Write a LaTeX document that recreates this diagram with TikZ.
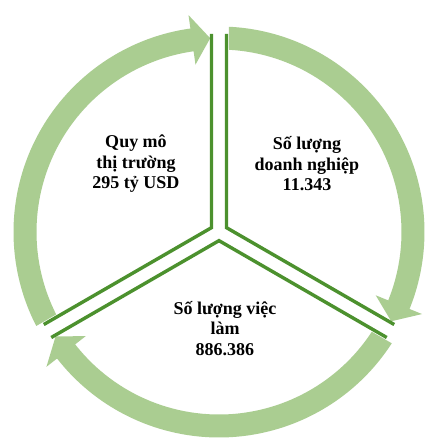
\documentclass[tikz,border=0pt]{standalone}
\usepackage{fontspec}
\setmainfont{Liberation Serif}
\usetikzlibrary{calc}
\definecolor{ringgreen}{RGB}{170,205,145}
\definecolor{linegreen}{RGB}{76,145,46}
\begin{document}
\begin{tikzpicture}[x=1pt,y=1pt,
  ringarrow/.style={fill=ringgreen, draw=none},
  divider/.style={draw=linegreen, line width=3.4pt, line join=miter},
  txt/.style={font=\bfseries\fontsize{18}{20.5}\selectfont, align=center, anchor=base, inner sep=0pt}]
\fill[white] (-219,-207) rectangle (209,232);
\useasboundingbox (-219,-207) rectangle (209,232);
\def\Ri{182.5}\def\Ro{205.5}\def\Rm{194}\def\Wi{169}\def\Wo{219}
\foreach \ds/\de in {210/90, 90/-30, -30/-150} {
  \pgfmathsetmacro\angSo{\ds - asin(10/\Ro)}
  \pgfmathsetmacro\angSi{\ds - asin(10/\Ri)}
  \pgfmathsetmacro\angB{\de + 8}
  \pgfmathsetmacro\angT{\de + 2.6}
  \fill[ringarrow] (\angSo:\Ro) arc[start angle=\angSo, end angle=\angB, radius=\Ro]
    -- (\angB:\Wo) -- (\angT:\Rm) -- (\angB:\Wi) -- (\angB:\Ri)
    arc[start angle=\angB, end angle=\angSi, radius=\Ri] -- cycle;
}
\foreach \Done/\Dtwo in {90/-30, -30/-150, 210/90} {
  \pgfmathsetmacro\Bis{(\Done+\Dtwo)/2}
  \draw[divider] ($(\Done:198)+(\Done-90:7.5)$) -- (\Bis:8.66) -- ($(\Dtwo:198)+(\Dtwo+90:7.5)$);
}
\node[txt] (market) at (-83,43) {Quy mô\\thị trường\\295 tỷ USD};
\node[txt] (firms) at (88,41) {Số lượng\\doanh nghiệp\\11.343};
\node[txt] (jobs) at (6,-123) {Số lượng việc\\làm\\886.386};
\end{tikzpicture}
\end{document}
